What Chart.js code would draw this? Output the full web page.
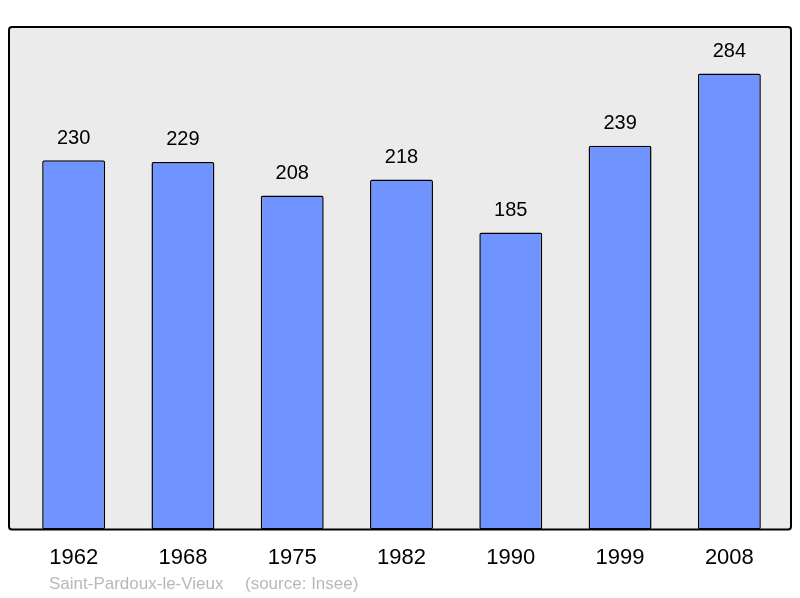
<!DOCTYPE html>
<html>
<head>
<meta charset="utf-8">
<script src="https://cdn.jsdelivr.net/npm/chart.js@4/dist/chart.umd.min.js"></script>
<style>
  html, body { margin: 0; padding: 0; background: #fff; }
  #wrap { width: 800px; height: 598px; }
</style>
</head>
<body>
<div id="wrap"><canvas id="myChart" width="800" height="598"></canvas></div>
<script>
// population by census year
const years = ['1962', '1968', '1975', '1982', '1990', '1999', '2008'];
const population = [230, 229, 208, 218, 185, 239, 284];
const footerName = 'Saint-Pardoux-le-Vieux';
const footerSource = '(source: Insee)';

function roundRect(ctx, x, y, w, h, r) {
    ctx.beginPath();
    ctx.moveTo(x + r, y);
    ctx.lineTo(x + w - r, y);
    ctx.quadraticCurveTo(x + w, y, x + w, y + r);
    ctx.lineTo(x + w, y + h - r);
    ctx.quadraticCurveTo(x + w, y + h, x + w - r, y + h);
    ctx.lineTo(x + r, y + h);
    ctx.quadraticCurveTo(x, y + h, x, y + h - r);
    ctx.lineTo(x, y + r);
    ctx.quadraticCurveTo(x, y, x + r, y);
    ctx.closePath();
}

// grey panel behind the bars
const panel = {
    id: 'panel',
    beforeDatasetsDraw(chart) {
        const ctx = chart.ctx, a = chart.chartArea;
        ctx.save();
        roundRect(ctx, a.left - 10, a.top, a.right - a.left + 17, a.bottom - a.top, 3);
        ctx.fillStyle = '#ebebeb';
        ctx.fill();
        ctx.restore();
    },
    afterDatasetsDraw(chart) {
        const ctx = chart.ctx, a = chart.chartArea;
        ctx.save();
        roundRect(ctx, a.left - 10, a.top, a.right - a.left + 17, a.bottom - a.top, 3);
        ctx.lineWidth = 2;
        ctx.strokeStyle = '#000';
        ctx.stroke();

        // value labels
        ctx.font = '20px "Liberation Sans", Arial, sans-serif';
        ctx.fillStyle = '#000';
        ctx.textAlign = 'center';
        ctx.textBaseline = 'middle';
        chart.getDatasetMeta(0).data.forEach((bar, i) => {
            ctx.fillText(population[i], bar.x, bar.y - 22);
        });

        // footer
        ctx.font = '17px "Liberation Sans", Arial, sans-serif';
        ctx.fillStyle = '#b8b8b8';
        ctx.textAlign = 'left';
        ctx.fillText(footerName, 49, 584);
        ctx.fillText(footerSource, 245, 584);
        ctx.restore();
    }
};

const config = {
    type: 'bar',
    data: {
        labels: years,
        datasets: [{
            data: population,
            backgroundColor: '#7094ff',
            borderColor: '#000',
            borderWidth: 1.5,
            borderRadius: 2,
            borderSkipped: false,
            barPercentage: 0.576,
            categoryPercentage: 1
        }]
    },
    options: {
        responsive: false,
        animation: false,
        layout: { padding: { left: 19, right: 16, top: 27, bottom: 12 } },
        scales: {
            x: {
                grid: { display: false, drawTicks: false },
                border: { display: false },
                ticks: {
                    padding: 15,
                    color: '#000',
                    font: { size: 22, family: '"Liberation Sans", Arial, sans-serif' }
                }
            },
            y: {
                display: false,
                min: 0,
                max: 313
            }
        },
        plugins: {
            legend: { display: false },
            tooltip: { enabled: false }
        }
    },
    plugins: [panel]
};

new Chart(document.getElementById('myChart'), config);
</script>
</body>
</html>
